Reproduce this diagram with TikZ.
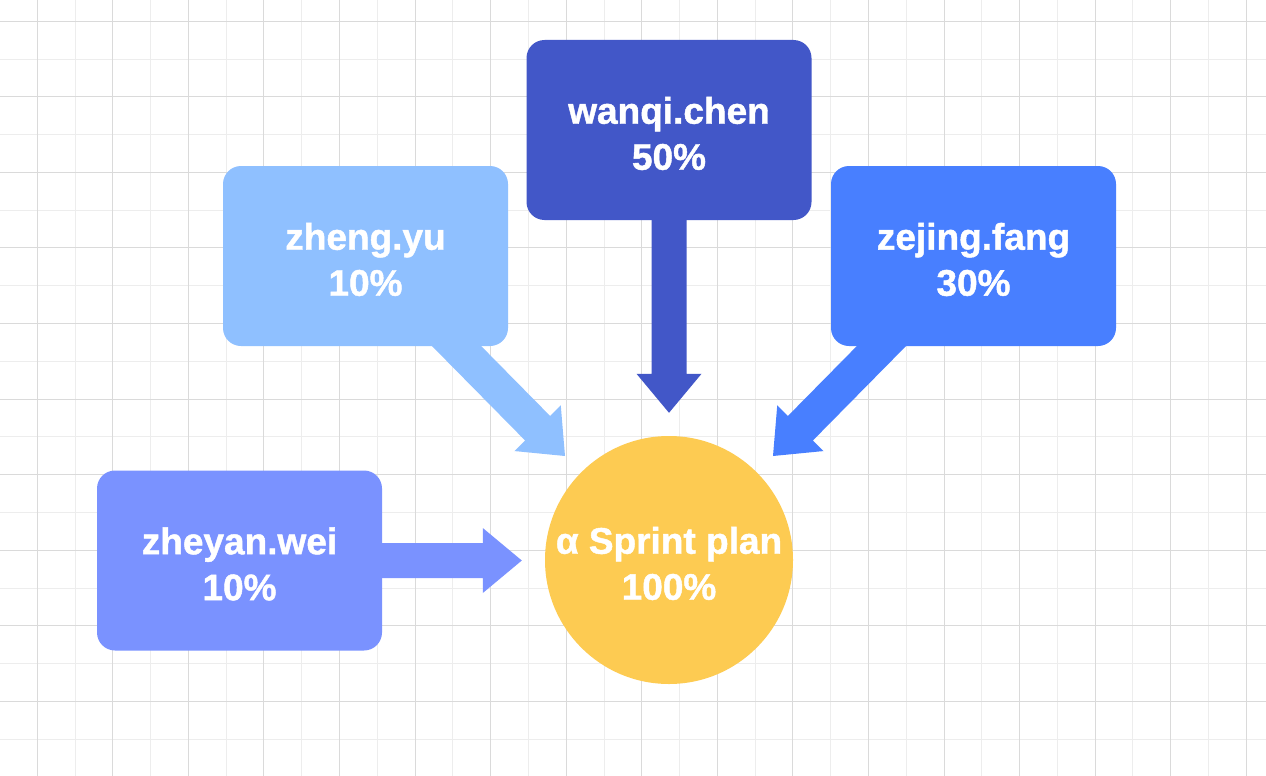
\documentclass[tikz,border=0pt]{standalone}
\usepackage{fontspec}
\setmainfont{Liberation Sans}[BoldFeatures={FakeBold=1.2}]
\usetikzlibrary{calc,backgrounds}
\definecolor{gridD}{HTML}{DADADA}
\definecolor{gridL}{HTML}{EDEDED}
\definecolor{cZY}{HTML}{8FC0FF}
\definecolor{cWQ}{HTML}{4257C8}
\definecolor{cZF}{HTML}{487FFF}
\definecolor{cZW}{HTML}{7A92FF}
\definecolor{cC}{HTML}{FDCB52}
\newcommand\blockarrow[3]{%
  \coordinate (hb) at ($(#2)!39pt!(#1)$);
  \fill[#3] ($(#1)!17.5pt!90:(#2)$) -- ($(hb)!17.5pt!90:(#2)$) -- ($(hb)!32.5pt!90:(#2)$)
    -- (#2) -- ($(hb)!32.5pt!-90:(#2)$) -- ($(hb)!17.5pt!-90:(#2)$) -- ($(#1)!17.5pt!-90:(#2)$) -- cycle;}
\begin{document}
\begin{tikzpicture}[x=1pt,y=-1pt,
  box/.style={rounded corners=18pt, minimum width=285pt, minimum height=180pt, inner sep=0pt,
    text=white, align=center, font=\bfseries\fontsize{37}{46}\selectfont},
  circ/.style={circle, minimum size=248pt, inner sep=0pt, fill=cC,
    text=white, align=center, font=\bfseries\fontsize{37}{46}\selectfont},
  lbl/.style={text=white, align=center, inner sep=0pt, font=\bfseries\fontsize{37}{46}\selectfont}]
\useasboundingbox (0,0) rectangle (1266,776);
\node[box, fill=cZY] (zy) at (365.5,256) {};
\node[box, fill=cWQ] (wq) at (669,130) {};
\node[box, fill=cZF] (zf) at (973.5,256) {};
\node[box, fill=cZW] (zw) at (239.5,560.5) {};
\node[circ] (c) at (669,560) {};
\node[lbl] (tzy) at ($(zy.center)+(0,3.5)$) {zheng.yu\\10\%};
\node[lbl] (twq) at ($(wq.center)+(0,3.5)$) {wanqi.chen\\50\%};
\node[lbl] (tzf) at ($(zf.center)+(0,3.5)$) {zejing.fang\\30\%};
\node[lbl] (tzw) at ($(zw.center)+(0,3.5)$) {zheyan.wei\\10\%};
\node[lbl] (tc) at ($(c.center)+(0,3.5)$) {α Sprint plan\\100\%};
\coordinate (s1) at ($(zy.south)+(71.5,-20)$);
\coordinate (t1) at (565,456);
\coordinate (s3) at ($(zf.south)+(-72.5,-20)$);
\coordinate (t3) at (773,456);
\coordinate (t2) at ($(c.north)+(0,-23)$);
\coordinate (t4) at ($(c.west)+(-23,0.5)$);
\begin{pgfonlayer}{background}
  \fill[white] (0,0) rectangle (1266,776);
  \foreach \i in {0,...,34} {
    \draw[gridL, line width=1pt] ({-0.48+37.78*2*\i},0) -- ++(0,776);
    \draw[gridL, line width=1pt] (0,{-16.48+37.78*2*\i}) -- ++(1266,0);
  }
  \foreach \i in {0,...,17} {
    \draw[gridD, line width=1pt] ({37.3+75.56*\i},0) -- ++(0,776);
    \draw[gridD, line width=1pt] (0,{21.3+75.56*\i}) -- ++(1266,0);
  }
  \blockarrow{s1}{t1}{cZY}
  \blockarrow{wq.south}{t2}{cWQ}
  \blockarrow{s3}{t3}{cZF}
  \blockarrow{zw.east}{t4}{cZW}
\end{pgfonlayer}
\end{tikzpicture}
\end{document}
